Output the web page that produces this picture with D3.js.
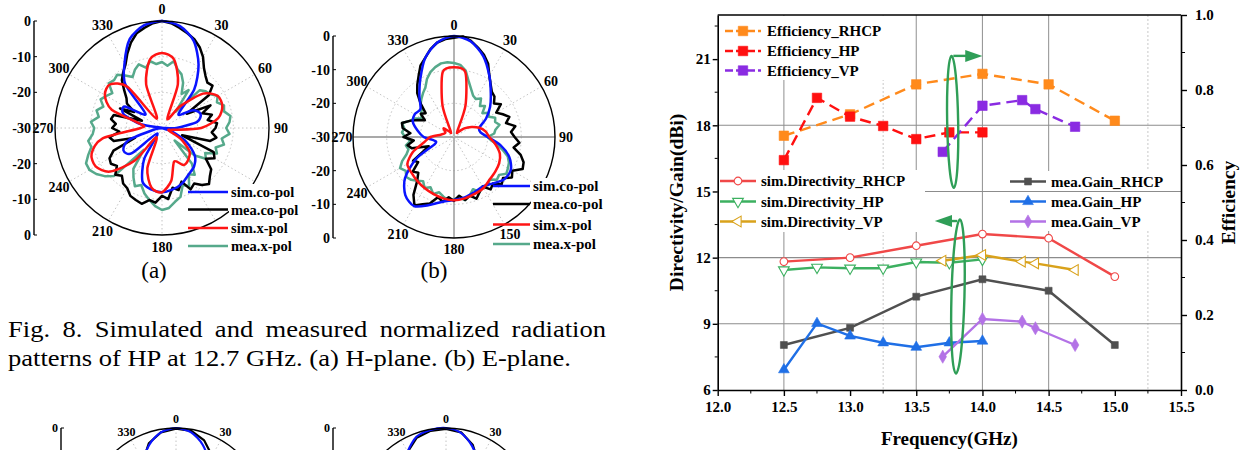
<!DOCTYPE html>
<html>
<head>
<meta charset="utf-8">
<script src="https://cdn.jsdelivr.net/npm/d3@7"></script>
<style>
  body { margin: 0; background: #fff; }
  text { font-family: "Liberation Serif", "Times New Roman", Times, serif; }
</style>
</head>
<body>
<svg id="fig" width="1244" height="450"></svg>
<script>
// ---------------- right chart data ----------------
var freqRHCP = [12.5, 13.0, 13.5, 14.0, 14.5, 15.0];
var freqHP = [12.5, 12.75, 13.0, 13.25, 13.5, 13.75, 14.0];
var freqVP = [13.7, 14.0, 14.3, 14.4, 14.7];

var effRHCP = [0.678, 0.735, 0.815, 0.843, 0.815, 0.718];
var effHP = [0.613, 0.779, 0.729, 0.704, 0.669, 0.687, 0.687];
var effVP = [0.635, 0.758, 0.773, 0.749, 0.702];

var simDirRHCP = [11.82, 12.0, 12.54, 13.07, 12.88, 11.14];
var simDirHP = [11.44, 11.56, 11.52, 11.52, 11.8, 11.77, 11.92];
var simDirVP = [11.86, 12.12, 11.82, 11.74, 11.44];

var meaGainRHCP = [8.04, 8.82, 10.23, 11.02, 10.5, 8.04];
var meaGainHP = [6.92, 9.02, 8.45, 8.14, 7.94, 8.14, 8.22];
var meaGainVP = [7.51, 9.22, 9.1, 8.8, 8.04];

var freqTicks = [12.0, 12.5, 13.0, 13.5, 14.0, 14.5, 15.0, 15.5];
var dbTicks = [6, 9, 12, 15, 18, 21];
var effTicks = [0, 0.2, 0.4, 0.6, 0.8, 1.0];

// ---------------- polar data (dB, equal angle steps from 0 deg, clockwise) ----------------
var aSimCo = [0, -1, -4, -9.5, -16, -24, -20, -18.5, -20, -26, -30, -27, -22, -18, -16, -15, -13.5, -12.5,
  -12, -12.5, -14, -20, -28, -19, -17.5, -20, -28, -30, -24, -18.5, -18, -24, -14, -9, -3.5, -0.8];
var aSimX = [-9, -10.5, -17, -27, -22, -15, -12, -12, -14, -19, -27, -28, -24, -20, -18.5, -18, -20, -15,
  -12, -13, -18, -27, -18, -11, -8.5, -9, -13, -24, -24, -15, -11.5, -11, -15, -27, -17, -10.5];
var aMeaCo = [0, -0.5, -1.5, -2.5, -3.5, -5, -7, -9.5, -11, -12, -11.5, -14, -22, -15, -18, -15.5, -17, -14.5,
  -15, -16, -14.5, -16, -24, -14, -13, -15, -12, -11, -9.5, -10.5, -12, -11, -14, -12, -13, -10,
  -11, -9, -9.5, -8, -8.5, -9, -10.5, -11, -12.5, -11.5, -13.5, -12.5, -13, -15, -22, -16, -15, -18,
  -16, -17, -15.5, -16, -24, -17, -21, -18, -17, -15, -12.5, -11, -9.5, -7, -4.5, -2.5, -1.5, -0.5];
var aMeaX = [-11.5, -12.5, -11, -13, -14, -16, -19, -17, -24, -15, -14, -13.5, -12, -13, -11.5, -12, -10.5, -11,
  -12, -11, -13, -12, -14, -13, -16, -15, -18, -25, -17, -14, -15, -12, -13, -10, -9, -7.5,
  -7, -8, -9.5, -11, -13, -12, -14, -16, -22, -11, -9, -7.5, -6.5, -6.5, -8, -9.5, -9, -10.5,
  -11, -10, -12, -11, -12.5, -11, -12, -13, -10.5, -11, -10.5, -12, -13.5, -12, -11, -12.5, -11, -12];

var bSimCo = [0, -1.2, -4.5, -9, -13, -16, -19, -22, -22, -20, -16, -12.5, -10.5, -10.5, -12, -13, -12.5, -11.8,
  -11.3, -10.5, -8.5, -6.3, -7.5, -11, -17, -24, -24, -21, -19, -17, -16.5, -17, -14, -10, -5, -1.5];
var bSimX = [-9.3, -10.5, -20, -28, -28, -26, -24, -22, -20.5, -19.5, -17.5, -15.5, -14.5, -14, -13.5, -12.5, -12, -11.5,
  -11.2, -11.5, -12, -12.5, -13, -13.5, -14, -17, -21, -23, -26, -27, -27, -26, -28, -28, -20, -10.5];
var bMeaCo = [-0.5, 0, -1, -2.5, -4, -6, -9, -11, -12.5, -13, -14.5, -13, -15.5, -14, -12.5, -14, -11.5, -13,
  -12, -10.5, -12, -9.5, -8, -7.5, -10, -9, -11, -10, -12, -11, -13, -12, -10.5, -12, -11, -12.5,
  -11, -12, -10.5, -11.5, -9, -8, -6.5, -9, -13, -15, -14, -17, -16, -20, -22, -17, -16, -18,
  -15, -17, -14.5, -14, -16, -18, -20, -18, -19, -16, -13, -11, -9, -6.5, -5, -3, -1.5, -0.8];
var bMeaX = [-8, -8.5, -10, -13, -15, -16.5, -17, -16, -18, -17, -19, -17.5, -18, -16.5, -17, -16, -17.5, -18,
  -20, -19, -17, -15, -13, -12, -11.5, -11, -12.5, -12, -13.5, -12.5, -13, -12, -13.5, -12, -11, -12,
  -11.5, -11, -12, -13, -12, -13.5, -12.5, -14, -13, -12, -11.5, -12.5, -11.5, -13, -15, -16, -15.5, -17,
  -15.5, -14.5, -15, -14, -16, -17, -19, -18, -17.5, -16, -15, -14, -13, -11, -9.5, -8.5, -7.8, -7.7];

var cSimCo = [0, -1, -4, -8.5, -14, -20, -22, -20, -22, -25, -24, -20, -18, -16, -15, -14, -13, -12.5,
  -12, -12.5, -13, -14, -15, -16, -18, -20, -24, -25, -22, -20, -22, -20, -14, -8.5, -4, -1];
var cMeaCo = [-0.2, -0.5, -2.5, -6, -11, -16, -18, -17, -19, -20, -18, -16, -14, -13, -12, -12.5, -11, -12,
  -11, -12, -12.5, -14, -15, -17, -18, -19, -21, -22, -20, -19, -20, -17, -13, -8, -3.5, -1];
var dSimCo = [0, -1.2, -4.5, -9, -14, -19, -22, -23, -22, -20, -18, -16, -14, -13, -12.5, -12, -12, -11.5,
  -11.5, -11.5, -12, -12, -12.5, -14, -17, -20, -23, -24, -22, -20, -19, -14, -9, -4.5, -1.2, -0.2];
var dMeaCo = [-0.3, -1, -4, -8.5, -13, -18, -21, -22, -21, -19, -17, -15, -14, -13, -12, -12.5, -11.5, -12,
  -11, -12, -11.5, -12.5, -13, -15, -18, -21, -22, -23, -21, -19, -18, -13.5, -8.5, -4.5, -1.5, -0.5];

var radialTicks = [0, -10, -20, -30, -20, -10, 0];
var polarNames = ["sim.co-pol", "mea.co-pol", "sim.x-pol", "mea.x-pol"];

var svg = d3.select("#fig");

// ---------------- right chart ----------------
var x = d3.scaleLinear().domain([12, 15.5]).range([717.7, 1181]);
var yL = d3.scaleLinear().domain([6, 23]).range([390, 15]);
var yR = d3.scaleLinear().domain([0, 1]).range([390, 15]);

var chart = svg.append("g");

// vertical grid (drawn under legend boxes)
var vGrid = [12.5, 13.5, 14.0, 14.5];
var vGridLight = [13.25, 15.25];
chart.selectAll(".vg").data(vGrid).enter().append("line")
  .attr("x1", d => x(d)).attr("x2", d => x(d)).attr("y1", yL(23)).attr("y2", yL(6))
  .attr("stroke", "#9a9a9a").attr("stroke-width", 1.1);
chart.selectAll(".vgl").data(vGridLight).enter().append("line")
  .attr("x1", d => x(d)).attr("x2", d => x(d)).attr("y1", yL(23)).attr("y2", yL(6))
  .attr("stroke", "#c8c8c8").attr("stroke-width", 1).attr("stroke-dasharray", "2,2");

// mea legend box sits under the horizontal grid
chart.append("rect").attr("x", 1003).attr("y", 171).attr("width", 176).attr("height", 60).attr("fill", "#fff");

var hGrid = [9, 12, 15, 18];
chart.selectAll(".hg").data(hGrid).enter().append("line")
  .attr("x1", x(12)).attr("x2", x(15.5)).attr("y1", d => yL(d)).attr("y2", d => yL(d))
  .attr("stroke", "#8c8c8c").attr("stroke-width", 1.1);

chart.append("rect").attr("x", 719).attr("y", 16).attr("width", 178).attr("height", 64).attr("fill", "#fff");
chart.append("rect").attr("x", 719).attr("y", 170).attr("width", 206).attr("height", 62).attr("fill", "#fff");

// axes
var fontAxis = g => g.selectAll("text").attr("font-family", "Liberation Serif").attr("font-weight", "bold")
  .attr("font-size", 15).attr("fill", "#000");

var leftAxis = chart.append("g").attr("transform", `translate(${x(12)},0)`)
  .call(d3.axisLeft(yL).tickValues(dbTicks).tickSize(5).tickSizeOuter(0).tickPadding(2));
leftAxis.call(fontAxis);
leftAxis.append("g").selectAll("line").data(d3.range(7.5, 23, 3)).enter().append("line")
  .attr("x1", 0).attr("x2", -3).attr("y1", d => yL(d)).attr("y2", d => yL(d)).attr("stroke", "#000");

var bottomAxis = chart.append("g").attr("transform", `translate(0,${yL(6)})`)
  .call(d3.axisBottom(x).tickValues(freqTicks).tickFormat(d3.format(".1f")).tickSize(6).tickSizeOuter(0).tickPadding(5));
bottomAxis.call(fontAxis);
bottomAxis.append("g").selectAll("line").data(d3.range(12.25, 15.5, 0.5)).enter().append("line")
  .attr("x1", d => x(d)).attr("x2", d => x(d)).attr("y1", 0).attr("y2", 3.5).attr("stroke", "#000");

var rightAxis = chart.append("g").attr("transform", `translate(${x(15.5)},0)`)
  .call(d3.axisRight(yR).tickValues(effTicks).tickFormat(d3.format(".1f")).tickSize(6).tickSizeOuter(0).tickPadding(8));
rightAxis.call(fontAxis);
rightAxis.append("g").selectAll("line").data(d3.range(0.1, 1, 0.2)).enter().append("line")
  .attr("x1", 0).attr("x2", 4).attr("y1", d => yR(d)).attr("y2", d => yR(d)).attr("stroke", "#000");

chart.selectAll(".domain").attr("stroke", "#000").attr("stroke-width", 1.6);
chart.selectAll(".tick line").attr("stroke-width", 1.4);
chart.append("line").attr("x1", x(12)).attr("x2", x(15.5)).attr("y1", yL(23)).attr("y2", yL(23))
  .attr("stroke", "#000").attr("stroke-width", 1.6);

chart.append("text").attr("transform", `translate(676,${(yL(6) + yL(23)) / 2}) rotate(-90)`)
  .attr("text-anchor", "middle").attr("dy", "0.35em").attr("font-weight", "bold").attr("font-size", 19.5)
  .text("Directivity/Gain(dBi)");
chart.append("text").attr("transform", `translate(1228,${(yL(6) + yL(23)) / 2}) rotate(-90)`)
  .attr("text-anchor", "middle").attr("dy", "0.35em").attr("font-weight", "bold").attr("font-size", 19.5)
  .text("Efficiency");
chart.append("text").attr("x", (x(12) + x(15.5)) / 2).attr("y", 438).attr("dy", "0.35em")
  .attr("text-anchor", "middle").attr("font-weight", "bold").attr("font-size", 19)
  .text("Frequency(GHz)");

// series table
var tri = d3.symbolTriangle;
var series = [
  { name: "Efficiency_RHCP", f: freqRHCP, v: effRHCP, y: yR, color: "#ff8a1c", dash: "11,6", sym: d3.symbolSquare, size: 90, open: false, rot: 0, leg: [725, 31] },
  { name: "Efficiency_HP", f: freqHP, v: effHP, y: yR, color: "#ff1010", dash: "11,6", sym: d3.symbolSquare, size: 90, open: false, rot: 0, leg: [725, 51] },
  { name: "Efficiency_VP", f: freqVP, v: effVP, y: yR, color: "#8a2be2", dash: "11,6", sym: d3.symbolSquare, size: 90, open: false, rot: 0, leg: [725, 70.5] },
  { name: "sim.Directivity_RHCP", f: freqRHCP, v: simDirRHCP, y: yL, color: "#f04848", dash: null, sym: d3.symbolCircle, size: 46, open: true, rot: 0, leg: [720, 181] },
  { name: "sim.Directivity_HP", f: freqHP, v: simDirHP, y: yL, color: "#3cb060", dash: null, sym: tri, size: 50, open: true, rot: 180, leg: [720, 201.5] },
  { name: "sim.Directivity_VP", f: freqVP, v: simDirVP, y: yL, color: "#d9a21b", dash: null, sym: tri, size: 50, open: true, rot: -90, leg: [720, 221.5] },
  { name: "mea.Gain_RHCP", f: freqRHCP, v: meaGainRHCP, y: yL, color: "#505050", dash: null, sym: d3.symbolSquare, size: 48, open: false, rot: 0, leg: [1010, 181.5] },
  { name: "mea.Gain_HP", f: freqHP, v: meaGainHP, y: yL, color: "#1f6fe6", dash: null, sym: tri, size: 50, open: false, rot: 0, leg: [1010, 201.5] },
  { name: "mea.Gain_VP", f: freqVP, v: meaGainVP, y: yL, color: "#b372e6", dash: null, sym: d3.symbolDiamond, size: 50, open: false, rot: 0, leg: [1010, 221.5] }
];

function marker(g, s, px, py) {
  g.append("path").attr("d", d3.symbol().type(s.sym).size(s.size)())
    .attr("transform", `translate(${px},${py}) rotate(${s.rot})`)
    .attr("fill", s.open ? "#fff" : s.color)
    .attr("stroke", s.color).attr("stroke-width", s.open ? 1.1 : 0.6);
}

series.forEach(function (s) {
  var pts = s.f.map((f, i) => [f, s.v[i]]);
  var line = d3.line().x(d => x(d[0])).y(d => s.y(d[1]));
  var g = chart.append("g");
  g.append("path").datum(pts).attr("d", line).attr("fill", "none")
    .attr("stroke", s.color).attr("stroke-width", 2.4).attr("stroke-dasharray", s.dash);
  pts.forEach(d => marker(g, s, x(d[0]), s.y(d[1])));

  // legend entry
  var lg = chart.append("g");
  var lx = s.leg[0], ly = s.leg[1];
  lg.append("line").attr("x1", lx).attr("x2", lx + 36).attr("y1", ly).attr("y2", ly)
    .attr("stroke", s.color).attr("stroke-width", 2.4).attr("stroke-dasharray", s.dash ? "8,3" : null);
  marker(lg, s, lx + 18, ly);
  lg.append("text").attr("x", lx + (s.dash ? 42 : 41)).attr("y", ly).attr("dy", "0.35em")
    .attr("font-weight", "bold").attr("font-size", 15).text(s.name);
});

// green annotations
var green = "#2f9e57";
var ann = chart.append("g").attr("fill", "none").attr("stroke", green).attr("stroke-width", 2.4);
ann.append("ellipse").attr("cx", x(13.775)).attr("cy", yR(0.715)).attr("rx", 5.5).attr("ry", 66)
  .attr("transform", `rotate(-1,${x(13.775)},${yR(0.715)})`);
ann.append("line").attr("x1", x(13.78)).attr("x2", x(13.9)).attr("y1", yR(0.891)).attr("y2", yR(0.891));
ann.append("path").attr("d", d3.line()([[x(13.87), yR(0.891) - 6], [x(14.0), yR(0.891)], [x(13.87), yR(0.891) + 6]]))
  .attr("fill", green).attr("stroke", "none");
ann.append("ellipse").attr("cx", x(13.815)).attr("cy", yL(10.24)).attr("rx", 6.5).attr("ry", 77)
  .attr("transform", `rotate(1.5,${x(13.815)},${yL(10.24)})`);
ann.append("line").attr("x1", x(13.81)).attr("x2", x(13.72)).attr("y1", yL(13.66)).attr("y2", yL(13.66));
ann.append("path").attr("d", d3.line()([[x(13.77), yL(13.66) - 6], [x(13.64), yL(13.66)], [x(13.77), yL(13.66) + 6]]))
  .attr("fill", green).attr("stroke", "none");

// ---------------- polar plots ----------------
var polColors = { simCo: "#0a14ff", meaCo: "#000000", simX: "#ff1414", meaX: "#56a98b" };

function drawPolar(p) {
  var g = svg.append("g").attr("transform", `translate(${p.cx},${p.cy})`);
  var r = d3.scaleLinear().domain([-30, 0]).range([0, p.R]).clamp(true);

  [-10, -20].forEach(v => g.append("circle").attr("r", r(v)).attr("fill", "none")
    .attr("stroke", "#c4c4c4").attr("stroke-width", 1).attr("stroke-dasharray", "1.5,2.5"));
  d3.range(0, 360, 30).forEach(function (a) {
    var t = a * Math.PI / 180, solid = p.cross && a % 90 === 0;
    g.append("line").attr("x1", 0).attr("y1", 0).attr("x2", p.R * Math.sin(t)).attr("y2", -p.R * Math.cos(t))
      .attr("stroke", solid ? "#8c8c8c" : "#c4c4c4").attr("stroke-width", solid ? 1.3 : 1)
      .attr("stroke-dasharray", solid ? null : "1.5,2.5");
  });

  p.curves.forEach(function (c) {
    var line = d3.lineRadial()
      .angle((d, i, data) => i * 2 * Math.PI / data.length)
      .radius(d => r(d))
      .curve(c.smooth ? d3.curveCardinalClosed.tension(0.2) : d3.curveLinearClosed);
    g.append("path").datum(c.v).attr("d", line).attr("fill", "none")
      .attr("stroke", c.color).attr("stroke-width", p.lw).attr("stroke-linejoin", "round");
  });

  g.append("circle").attr("r", p.R).attr("fill", "none").attr("stroke", "#000").attr("stroke-width", 1.4);

  // angle labels, only those not hidden by the legend or the page edge
  d3.range(0, 360, 30).forEach(function (a) {
    var t = a * Math.PI / 180, rr = p.R + p.off;
    var ly = -rr * Math.cos(t);
    if (p.hide.indexOf(a) >= 0 || p.cy + ly > 444) return;
    g.append("text").attr("x", rr * Math.sin(t)).attr("y", ly).attr("dy", "0.35em")
      .attr("text-anchor", "middle").attr("font-weight", "bold").attr("font-size", p.fs).text(a);
  });

  // radial scale on the left
  var sg = svg.append("g");
  sg.append("line").attr("x1", p.axisX).attr("x2", p.axisX).attr("y1", p.cy - p.R).attr("y2", p.cy + p.R)
    .attr("stroke", "#000").attr("stroke-width", 1.4);
  radialTicks.forEach(function (v, i) {
    var yy = i < 3 ? p.cy - r(v) : p.cy + r(v);
    if (i === 3) yy = p.cy;
    sg.append("line").attr("x1", p.axisX).attr("x2", p.axisX + 3).attr("y1", yy).attr("y2", yy).attr("stroke", "#000");
    if (yy > 444) return;
    sg.append("text").attr("x", p.axisX - 3).attr("y", yy).attr("dy", "0.35em").attr("text-anchor", "end")
      .attr("font-weight", "bold").attr("font-size", p.fs).text(v);
  });

  if (p.legend) {
    var L = p.legend;
    var lg = svg.append("g");
    lg.append("rect").attr("x", L.x + L.len + 1).attr("y", L.ys[0] - 8).attr("width", 75)
      .attr("height", L.ys[3] - L.ys[0] + 16).attr("fill", "#fff");
    p.curves.slice().sort((a, b) => a.k - b.k).forEach(function (c, i) {
      lg.append("line").attr("x1", L.x).attr("x2", L.x + L.len).attr("y1", L.ys[i]).attr("y2", L.ys[i])
        .attr("stroke", c.color).attr("stroke-width", 2.6);
      lg.append("text").attr("x", L.x + L.len + 3).attr("y", L.ys[i]).attr("dy", "0.35em")
        .attr("font-weight", "bold").attr("font-size", L.fs).text(polarNames[c.k]);
    });
  }
}

function curveSet(simCo, meaCo, simX, meaX) {
  var cs = [];
  if (meaX) cs.push({ k: 3, v: meaX, color: polColors.meaX, smooth: false });
  cs.push({ k: 1, v: meaCo, color: polColors.meaCo, smooth: false });
  cs.push({ k: 0, v: simCo, color: polColors.simCo, smooth: true });
  if (simX) cs.push({ k: 2, v: simX, color: polColors.simX, smooth: true });
  return cs;
}

drawPolar({ cx: 162, cy: 128, R: 107, off: 12, fs: 14, lw: 2.5, axisX: 34, cross: false, hide: [120, 150],
  curves: curveSet(aSimCo, aMeaCo, aSimX, aMeaX),
  legend: { x: 188, len: 40, ys: [192, 209.5, 228, 246], fs: 14.5 } });
drawPolar({ cx: 454, cy: 137, R: 101, off: 11, fs: 14, lw: 2.5, axisX: 333, cross: true, hide: [120],
  curves: curveSet(bSimCo, bMeaCo, bSimX, bMeaX),
  legend: { x: 493, len: 37, ys: [186, 204, 224.5, 244], fs: 15 } });
drawPolar({ cx: 176, cy: 518, R: 90, off: 9, fs: 12, lw: 2.2, axisX: 61, cross: false, hide: [],
  curves: curveSet(cSimCo, cMeaCo, null, null) });
drawPolar({ cx: 446, cy: 518, R: 90, off: 9, fs: 12, lw: 2.2, axisX: 333, cross: false, hide: [],
  curves: curveSet(dSimCo, dMeaCo, null, null) });

// ---------------- captions ----------------
var cap = svg.append("g").attr("font-size", 23);
cap.append("text").attr("x", 154).attr("y", 270).attr("dy", "0.35em").attr("text-anchor", "middle").text("(a)");
cap.append("text").attr("x", 434).attr("y", 270).attr("dy", "0.35em").attr("text-anchor", "middle").text("(b)");

var line2 = cap.append("text").attr("x", 8).attr("y", 358).attr("dy", "0.35em")
  .text("patterns of HP at 12.7 GHz. (a) H-plane. (b) E-plane.");
var k = 563 / line2.node().getComputedTextLength();
line2.attr("textLength", 563).attr("lengthAdjust", "spacingAndGlyphs");

var words = "Fig. 8. Simulated and measured normalized radiation".split(" ");
var nodes = words.map(w => cap.append("text").attr("y", 329).attr("dy", "0.35em").text(w));
var widths = nodes.map(n => n.node().getComputedTextLength() * k);
var gap = (606 - 8 - d3.sum(widths)) / (words.length - 1);
var cur = 8;
nodes.forEach(function (n, i) {
  n.attr("x", cur).attr("textLength", widths[i]).attr("lengthAdjust", "spacingAndGlyphs");
  cur += widths[i] + gap;
});
</script>
</body>
</html>
